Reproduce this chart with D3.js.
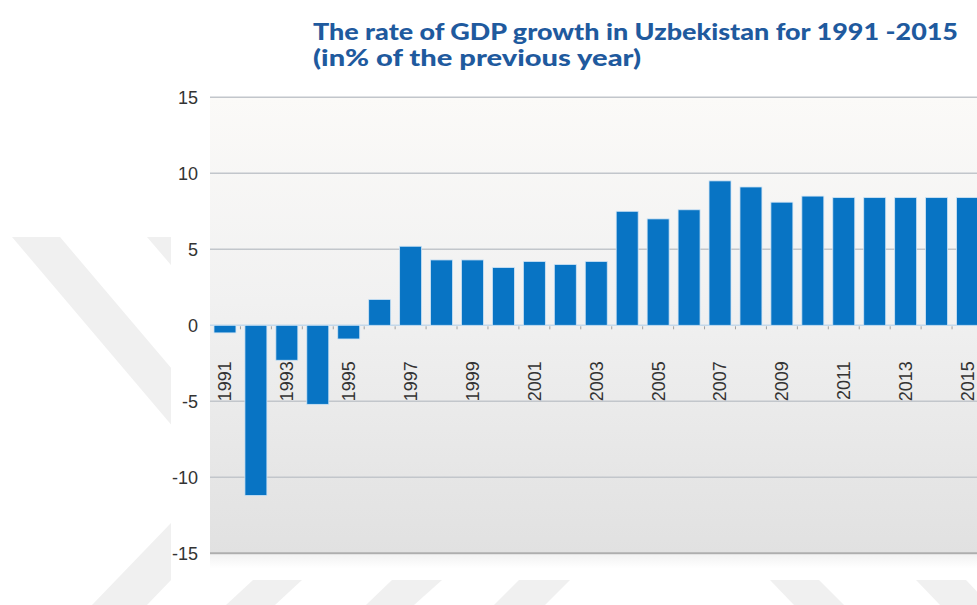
<!DOCTYPE html>
<html>
<head>
<meta charset="utf-8">
<script src="https://cdn.jsdelivr.net/npm/d3@7/dist/d3.min.js"></script>
<style>
  html, body { margin: 0; padding: 0; background: #ffffff; }
  svg { display: block; }
</style>
</head>
<body>
<svg id="chart" width="977" height="605"></svg>
<script>
// GDP growth, Uzbekistan, % of previous year
const years = ["1991","1992","1993","1994","1995","1996","1997","1998","1999","2000",
               "2001","2002","2003","2004","2005","2006","2007","2008","2009","2010",
               "2011","2012","2013","2014","2015"];
const growth = [-0.5, -11.2, -2.3, -5.2, -0.9, 1.7, 5.2, 4.3, 4.3, 3.8,
                4.2, 4.0, 4.2, 7.5, 7.0, 7.6, 9.5, 9.1, 8.1, 8.5,
                8.4, 8.4, 8.4, 8.4, 8.4];
const yTicks = [-15, -10, -5, 0, 5, 10, 15];
const labelYears = ["1991","1993","1995","1997","1999","2001","2003","2005",
                    "2007","2009","2011","2013","2015"];
const titleLines = ["The rate of GDP growth in Uzbekistan for 1991 -2015",
                    "(in% of the previous year)"];

const svg = d3.select("#chart");
const W = 977, H = 605;

// faint diagonal page marks behind the figure
const wm = svg.append("g").attr("fill", "#f0f0f0");
const stripes = [
  [[12,237],[60,237],[300,520],[252,520]],
  [[147,237],[195,237],[420,500],[372,500]],
  [[92,605],[147,605],[330,415],[275,415]],
  [[226,605],[275,605],[302,580],[253,580]],
  [[366,605],[414,605],[442,580],[392,580]],
  [[494,605],[545,605],[570,580],[519,580]],
  [[794,605],[844,605],[819,580],[770,580]],
  [[940,605],[990,605],[966,580],[916,580]]
];
wm.selectAll("polygon").data(stripes).join("polygon")
  .attr("points", d => d.map(p => p.join(",")).join(" "));

// white figure card
svg.append("rect").attr("x", 171).attr("y", 0).attr("width", W - 171).attr("height", 580)
  .attr("fill", "#ffffff");

const x = d3.scaleBand().domain(years).range([209.5, 983])
  .paddingInner(0.29).paddingOuter(0.145);
const y = d3.scaleLinear().domain([-15, 15]).range([553.3, 97.3]);

const plotLeft = 210, plotRight = 983;

// plot background gradient
const defs = svg.append("defs");
const grad = defs.append("linearGradient").attr("id", "bg")
  .attr("x1", 0).attr("y1", 0).attr("x2", 0).attr("y2", 1);
grad.append("stop").attr("offset", "0%").attr("stop-color", "#fbfaf8");
grad.append("stop").attr("offset", "45%").attr("stop-color", "#f1f1f1");
grad.append("stop").attr("offset", "100%").attr("stop-color", "#e1e1e1");
const shade = defs.append("linearGradient").attr("id", "below")
  .attr("x1", 0).attr("y1", 0).attr("x2", 0).attr("y2", 1);
shade.append("stop").attr("offset", "0%").attr("stop-color", "#f2f2f2");
shade.append("stop").attr("offset", "100%").attr("stop-color", "#ffffff");

svg.append("rect").attr("x", plotLeft).attr("y", y(15))
  .attr("width", plotRight - plotLeft).attr("height", y(-15) - y(15))
  .attr("fill", "url(#bg)");
svg.append("rect").attr("x", plotLeft).attr("y", y(-15) + 1)
  .attr("width", plotRight - plotLeft).attr("height", 14)
  .attr("fill", "url(#below)");

// horizontal grid
svg.append("g").selectAll("line").data(yTicks).join("line")
  .attr("x1", plotLeft).attr("x2", plotRight)
  .attr("y1", d => y(d)).attr("y2", d => y(d))
  .attr("stroke", d => d === 0 ? "#c3d8ea" : (d === -15 ? "#aeaeae" : "#c2c6cb"))
  .attr("stroke-width", d => d === -15 ? 2 : 1.6);

// y axis labels (plain hyphen for negatives)
const yAxis = d3.axisLeft(y).tickValues(yTicks).tickSize(0).tickPadding(0)
  .tickFormat(d => String(d));
const gy = svg.append("g").attr("transform", "translate(198,0)").call(yAxis);
gy.select(".domain").remove();
gy.selectAll("text")
  .attr("font-family", "'Liberation Sans', Arial, sans-serif")
  .attr("font-size", 18).attr("fill", "#333333");

// bars
svg.append("g").selectAll("rect").data(years).join("rect")
  .attr("x", d => x(d))
  .attr("width", x.bandwidth())
  .attr("y", (d, i) => y(Math.max(0, growth[i])))
  .attr("height", (d, i) => Math.abs(y(growth[i]) - y(0)))
  .attr("fill", "#0874c4")
  .attr("stroke", "#cfe4f5").attr("stroke-width", 0.8);

// small ticks between categories on the zero line
const gap = x.step() * x.paddingInner();
svg.append("g").selectAll("line").data(years.slice(1)).join("line")
  .attr("x1", d => x(d) - gap / 2).attr("x2", d => x(d) - gap / 2)
  .attr("y1", y(0) + 1).attr("y2", y(0) + 4)
  .attr("stroke", "#a0a0a0").attr("stroke-width", 1);

// year labels, rotated, under the zero line
const xAxis = d3.axisBottom(x).tickValues(labelYears).tickSize(0).tickPadding(0);
const gx = svg.append("g").attr("transform", `translate(0,${y(0)})`).call(xAxis);
gx.select(".domain").remove();
gx.selectAll("text")
  .attr("font-family", "'Liberation Sans', Arial, sans-serif")
  .attr("font-size", 18).attr("fill", "#333333")
  .attr("text-anchor", "end")
  .attr("transform", "rotate(-90)")
  .attr("x", -36).attr("y", 0).attr("dy", "0.36em");

// title
const title = svg.append("g")
  .attr("font-family", "Lato, 'Open Sans', sans-serif")
  .attr("font-weight", 900)
  .attr("fill", "#1f5a9e");
title.append("text").attr("x", 313).attr("y", 40)
  .attr("font-size", 22).attr("textLength", 645).attr("lengthAdjust", "spacingAndGlyphs")
  .text(titleLines[0]);
title.append("text").attr("x", 313).attr("y", 66)
  .attr("font-size", 22).attr("textLength", 328).attr("lengthAdjust", "spacingAndGlyphs")
  .text(titleLines[1]);
</script>
</body>
</html>
